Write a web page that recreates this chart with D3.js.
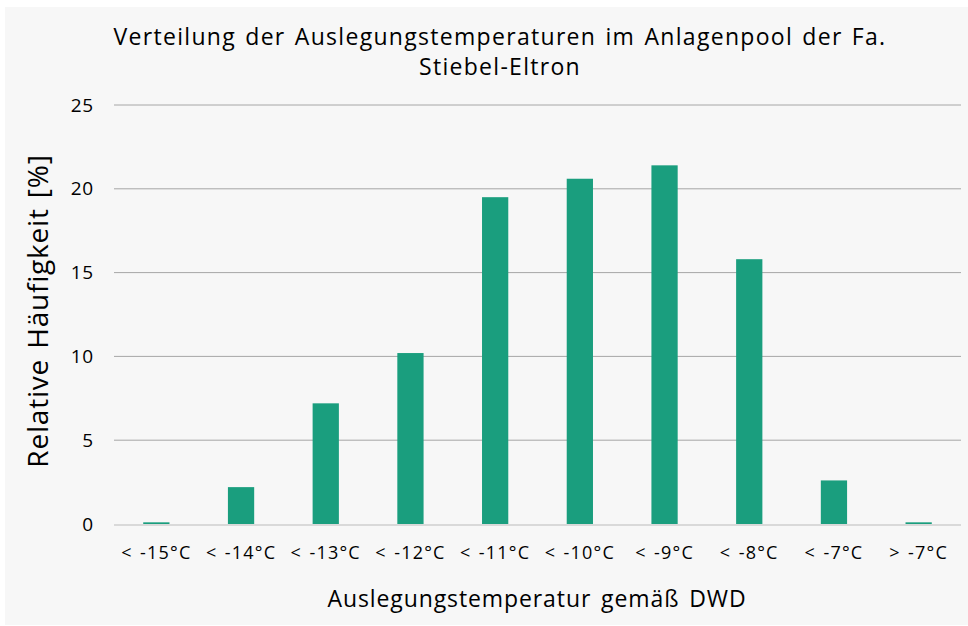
<!DOCTYPE html>
<html>
<head>
<meta charset="utf-8">
<script src="https://cdn.jsdelivr.net/npm/d3@7"></script>
<style>
  body { margin: 0; background: #fff; }
  svg { display: block; font-family: "Open Sans", "Noto Sans", sans-serif; }
</style>
</head>
<body>
<svg id="chart" width="968" height="626"></svg>
<script>
const categories = ['< -15°C', '< -14°C', '< -13°C', '< -12°C', '< -11°C', '< -10°C', '< -9°C', '< -8°C', '< -7°C', '> -7°C']
const values = [0.1, 2.2, 7.2, 10.2, 19.5, 20.6, 21.4, 15.8, 2.6, 0.1]
const yTicks = [0, 5, 10, 15, 20, 25]
const titleLines = ['Verteilung der Auslegungstemperaturen im Anlagenpool der Fa.', 'Stiebel-Eltron']

const svg = d3.select('#chart')

svg.append('rect')
  .attr('x', 5).attr('y', 7)
  .attr('width', 963).attr('height', 618)
  .attr('fill', '#f7f7f7')

const x = d3.scaleBand()
  .domain(categories)
  .range([114, 961])
  .paddingInner(0.69)
  .paddingOuter(0.345)

const y = d3.scaleLinear()
  .domain([0, 25])
  .range([524, 105])

// gridlines
svg.append('g')
  .selectAll('line')
  .data(yTicks.filter(d => d > 0))
  .join('line')
  .attr('x1', 114).attr('x2', 961)
  .attr('y1', d => y(d)).attr('y2', d => y(d))
  .attr('stroke', '#a6a6a6')
  .attr('stroke-width', 1)

// bars
svg.append('g')
  .selectAll('rect')
  .data(values)
  .join('rect')
  .attr('x', (d, i) => x(categories[i]))
  .attr('y', d => y(d))
  .attr('width', x.bandwidth())
  .attr('height', d => y(0) - y(d))
  .attr('fill', '#1a9e7e')

// baseline
svg.append('line')
  .attr('x1', 114).attr('x2', 961)
  .attr('y1', y(0) + 1).attr('y2', y(0) + 1)
  .attr('stroke', '#d9d9d9')
  .attr('stroke-width', 2)

// y tick labels
svg.append('g')
  .selectAll('text')
  .data(yTicks)
  .join('text')
  .attr('x', 94)
  .attr('y', d => y(d))
  .attr('dy', '0.35em')
  .attr('text-anchor', 'end')
  .attr('font-size', 19)
  .attr('letter-spacing', 0.8)
  .attr('fill', '#000')
  .text(d => d)

// x tick labels
svg.append('g')
  .selectAll('text')
  .data(categories)
  .join('text')
  .attr('x', d => x(d) + x.bandwidth() / 2)
  .attr('y', 559)
  .attr('text-anchor', 'middle')
  .attr('font-size', 18)
  .attr('letter-spacing', 1.2)
  .attr('word-spacing', 1.5)
  .attr('fill', '#000')
  .text(d => d)

// title
svg.append('g')
  .selectAll('text')
  .data(titleLines)
  .join('text')
  .attr('x', 500)
  .attr('y', (d, i) => 45 + i * 30)
  .attr('text-anchor', 'middle')
  .attr('font-size', 23)
  .attr('letter-spacing', 1.3)
  .attr('word-spacing', 2)
  .attr('fill', '#000')
  .text(d => d)

// axis titles
svg.append('text')
  .attr('x', 537)
  .attr('y', 607)
  .attr('text-anchor', 'middle')
  .attr('font-size', 23)
  .attr('letter-spacing', 0.9)
  .attr('word-spacing', 3)
  .attr('fill', '#000')
  .text('Auslegungstemperatur gemäß DWD')

svg.append('text')
  .attr('transform', 'translate(48, 311) rotate(-90)')
  .attr('text-anchor', 'middle')
  .attr('font-size', 28)
  .attr('letter-spacing', 0.8)
  .attr('word-spacing', 2)
  .attr('fill', '#000')
  .text('Relative Häufigkeit  [%]')
</script>
</body>
</html>
